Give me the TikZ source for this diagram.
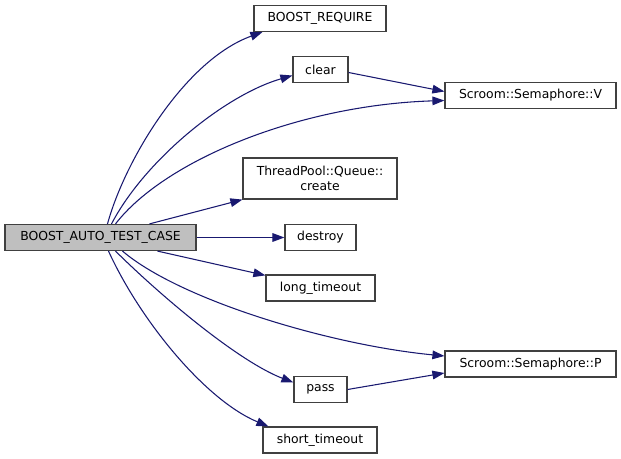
\documentclass[tikz,border=0pt]{standalone}
\usepackage{fontspec}
\setmainfont{DejaVu Sans}
\usetikzlibrary{calc,arrows.meta}

\definecolor{edgeblue}{HTML}{191970}
\definecolor{boxline}{HTML}{404040}
\definecolor{boxgray}{HTML}{BFBFBF}

\begin{document}
\begin{tikzpicture}[x=0.75pt,y=-0.75pt,
    fn/.style={draw=boxline,fill=white,line width=0.9pt,inner sep=0pt,
        minimum height=19.5pt,align=center,font=\fontsize{9.3}{10.8}\selectfont},
    call/.style={draw=edgeblue,line width=0.8pt,
        -{Triangle[length=9pt,width=6.5pt]}}]

% Fix the page to the reference size.
\useasboundingbox (0,0) rectangle (621,459);

% The caller.
\node[fn,fill=boxgray,minimum width=143.25pt] (main) at (100.5,237.5)
    {BOOST\_AUTO\_TEST\_CASE};

% Loop for each callee box: name/x/y/width/text.
\foreach \n/\x/\y/\w/\t in {
    req/320/18.5/99/BOOST\_REQUIRE,
    clear/320.5/69.5/41.25/clear,
    semV/530.5/95.5/128.25/Scroom::Semaphore::V,
    destroy/320.5/237.5/53.25/destroy,
    longto/320.5/288/81.75/long\_timeout,
    semP/530.5/364/128.25/Scroom::Semaphore::P,
    pass/320.5/389.5/39.75/pass,
    shortto/320/440/85.5/short\_timeout} {
    \node[fn,minimum width=\w pt] (\n) at (\x,\y) {\t};
}

% Two line box.
\node[fn,minimum width=115.5pt,minimum height=30.75pt] (create) at (320,178.5)
    {ThreadPool::Queue::\\create};

% Calls going up.
\draw[call] ($(main.north)+(7,0)$)
    .. controls (125,160) and (185,60) .. ($(req.south west)+(9,0)$);
\draw[call] ($(main.north)+(11,0)$)
    .. controls (145,160) and (225,95) .. ($(clear.west)+(0,6)$);
\draw[call] ($(main.north)+(15,0)$)
    .. controls (165,160) and (300,105) .. ($(semV.west)+(0,5)$);
\draw[call] ($(main.north)+(49,0)$) -- (create.south west);

% Straight across.
\draw[call] (main.east) -- (destroy.west);

% Calls going down.
\draw[call] ($(main.south)+(57,0)$) -- ($(longto.north west)+(0,1)$);
\draw[call] ($(main.south)+(22,0)$)
    .. controls (180,300) and (330,345) .. ($(semP.west)+(0,-8)$);
\draw[call] ($(main.south)+(15,0)$)
    .. controls (165,300) and (240,362) .. ($(pass.west)+(0,-7)$);
\draw[call] ($(main.south)+(8,0)$)
    .. controls (140,320) and (205,400) .. ($(shortto.north west)+(6,0)$);

% Calls into the semaphore.
\draw[call] ($(clear.east)+(0,3)$) -- ($(semV.west)+(0,-4)$);
\draw[call] (pass.east) -- ($(semP.west)+(0,9)$);

\end{tikzpicture}
\end{document}
